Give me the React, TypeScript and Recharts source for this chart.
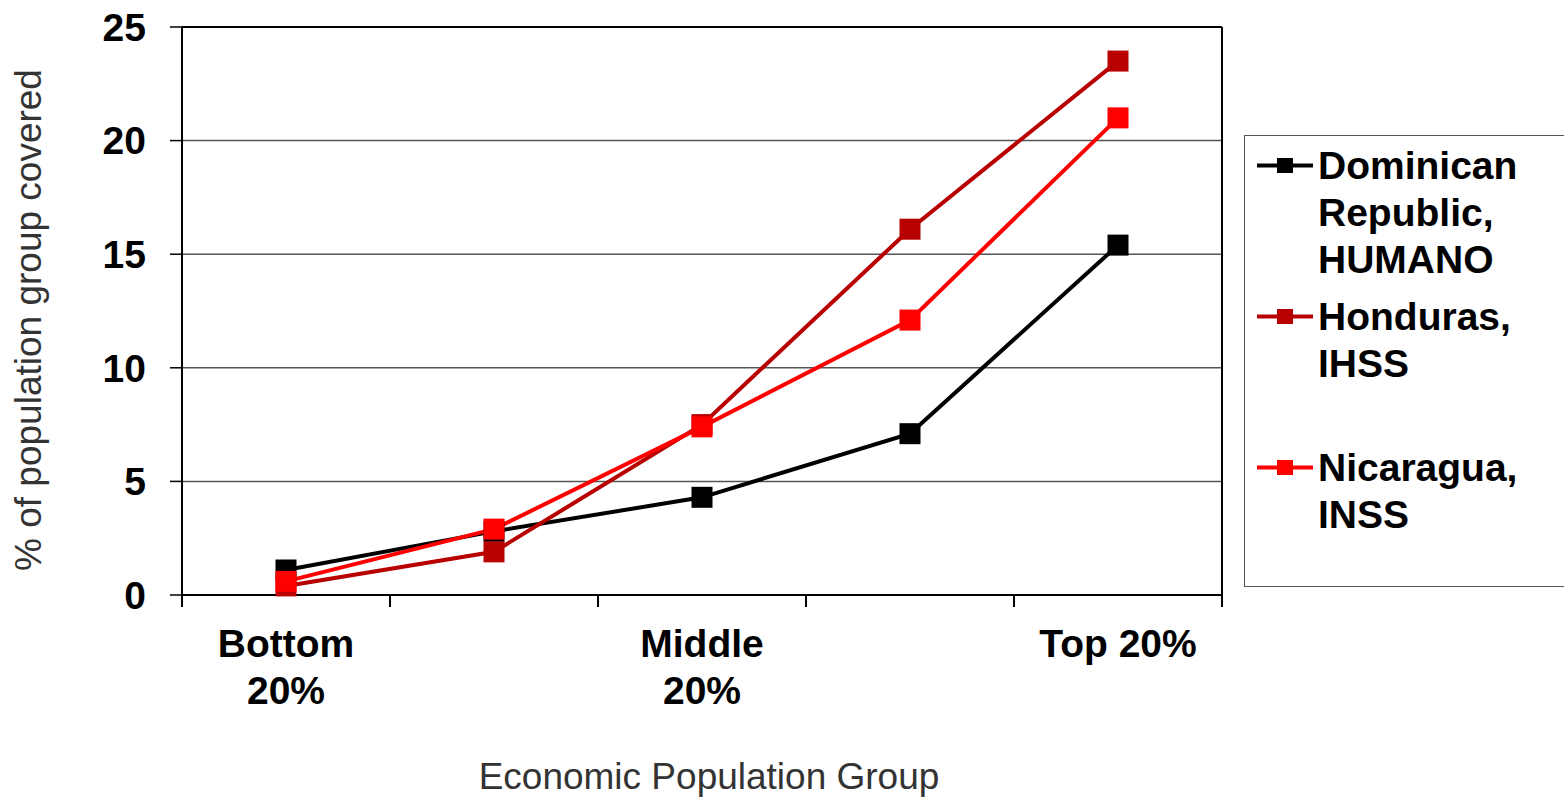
import React from "react";
import {
  LineChart,
  Line,
  XAxis,
  YAxis,
  CartesianGrid,
  Legend,
  ReferenceLine,
} from "recharts";

// Share of each income quintile covered by social health insurance,
// three Central American / Caribbean schemes.

const groups = ["Bottom 20%", "Second 20%", "Middle 20%", "Fourth 20%", "Top 20%"];
// only the outer and middle quintiles carry a label on the axis
const groupTickLines = [["Bottom", "20%"], [], ["Middle", "20%"], [], ["Top 20%"]];

const dominican = [1.1, 2.8, 4.3, 7.1, 15.4];
const honduras = [0.4, 1.9, 7.5, 16.1, 23.5];
const nicaragua = [0.6, 2.9, 7.4, 12.1, 21.0];

const yTicks = [0, 5, 10, 15, 20, 25];

const series = [
  { key: "dominican", name: "Dominican Republic, HUMANO", color: "#000000", lines: ["Dominican", "Republic,", "HUMANO"] },
  { key: "honduras", name: "Honduras, IHSS", color: "#B80000", lines: ["Honduras,", "IHSS"] },
  { key: "nicaragua", name: "Nicaragua, INSS", color: "#FF0000", lines: ["Nicaragua,", "INSS"] },
];

const data = groups.map((group, i) => ({
  group,
  dominican: dominican[i],
  honduras: honduras[i],
  nicaragua: nicaragua[i],
}));

const FONT = '"Liberation Sans", Arial, Helvetica, sans-serif';

function GroupTick(props: any) {
  const { x, y, payload, index, visibleTicksCount } = props;
  const half = payload?.offset ?? 0;
  const lines = groupTickLines[index] || [];
  const isLast = index === (visibleTicksCount ?? groups.length) - 1;
  return (
    <g>
      <line x1={x - half} x2={x - half} y1={y - 12} y2={y} stroke="#000" strokeWidth={2} />
      {isLast && (
        <>
          <line x1={x + half} x2={x + half} y1={y - 12} y2={y} stroke="#000" strokeWidth={2} />
        </>
      )}
      <text x={x} y={y} textAnchor="middle" fontFamily={FONT} fontWeight="bold" fontSize={39} fill="#000">
        {lines.map((l, i) => (
          <tspan key={i} x={x} dy={i === 0 ? 50 : 47}>
            {l}
          </tspan>
        ))}
      </text>
    </g>
  );
}

// right-hand frame edge, drawn by the mirror axis
function FrameTick() {
  return <g />;
}

function YTitle(props: any) {
  const vb = props.viewBox || { x: 0, y: 0, width: 0, height: 0 };
  const cx = vb.x + 41;
  const cy = vb.y + vb.height / 2 + 9;
  return (
    <text
      x={cx}
      y={cy}
      transform={`rotate(-90, ${cx}, ${cy})`}
      textAnchor="middle"
      fontFamily={FONT}
      fontSize={37}
      fill="#333"
    >
      % of population group covered
    </text>
  );
}

function XTitle(props: any) {
  const vb = props.viewBox || { x: 0, y: 0, width: 0, height: 0 };
  return (
    <text x={vb.x + vb.width / 2 + 7} y={vb.y + 194} textAnchor="middle" fontFamily={FONT} fontSize={37} fill="#333">
      Economic Population Group
    </text>
  );
}

function squareDot(color: string, id: string) {
  return (p: any) => (
    <rect key={`${id}-${p.index}`} x={p.cx - 10.5} y={p.cy - 10.5} width={21} height={21} fill={color} />
  );
}

function LegendBox() {
  return (
    <div
      style={{
        boxSizing: "border-box",
        width: "100%",
        height: "100%",
        border: "1.5px solid #555",
        borderRight: "none",
        background: "#fff",
        paddingTop: 6,
        fontFamily: FONT,
        fontWeight: "bold",
        fontSize: 39,
        lineHeight: "47px",
        color: "#000",
      }}
    >
      {series.map((s) => (
        <div key={s.key} style={{ display: "flex", height: 151 }}>
          <svg width={73} height={47} style={{ flex: "none" }}>
            <line x1={12} x2={68} y1={23.5} y2={23.5} stroke={s.color} strokeWidth={4} />
            <rect x={32} y={16} width={16} height={15} fill={s.color} />
          </svg>
          <div>
            {s.lines.map((l) => (
              <div key={l}>{l}</div>
            ))}
          </div>
        </div>
      ))}
    </div>
  );
}

export default function App() {
  return (
    <div style={{ position: "absolute", left: 0, top: 0, background: "#fff" }}>
      <LineChart width={1564} height={797} data={data} margin={{ top: 27, right: 341, bottom: 0, left: 0 }}>
        <CartesianGrid vertical={false} stroke="#555" strokeWidth={1.5} />
        <XAxis
          dataKey="group"
          scale="band"
          interval={0}
          height={202}
          tickSize={12}
          tickMargin={0}
          tickLine={false}
          axisLine={{ stroke: "#000", strokeWidth: 2 }}
          tick={<GroupTick />}
          label={{ content: <XTitle /> }}
        />
        <YAxis
          domain={[0, 25]}
          ticks={yTicks}
          width={182}
          tickSize={12}
          tickMargin={24}
          axisLine={{ stroke: "#000", strokeWidth: 2 }}
          tickLine={{ stroke: "#000", strokeWidth: 1.5 }}
          tick={{ fontSize: 39, fontWeight: "bold", fill: "#000", fontFamily: FONT }}
          label={{ content: <YTitle /> }}
        />
        <YAxis
          yAxisId="frame"
          orientation="right"
          domain={[0, 25]}
          ticks={yTicks}
          width={1}
          tick={<FrameTick />}
          tickLine={false}
          axisLine={{ stroke: "#000", strokeWidth: 2 }}
        />
        <ReferenceLine y={25} stroke="#000" strokeWidth={2} />
        {series.map((s) => (
          <Line
            key={s.key}
            dataKey={s.key}
            name={s.name}
            stroke={s.color}
            strokeWidth={4}
            dot={squareDot(s.color, s.key)}
            activeDot={false}
            isAnimationActive={false}
          />
        ))}
        <Legend
          layout="vertical"
          align="center"
          verticalAlign="middle"
          wrapperStyle={{ left: 1244, top: 135, width: 320, height: 452 }}
          content={<LegendBox />}
        />
      </LineChart>
    </div>
  );
}
